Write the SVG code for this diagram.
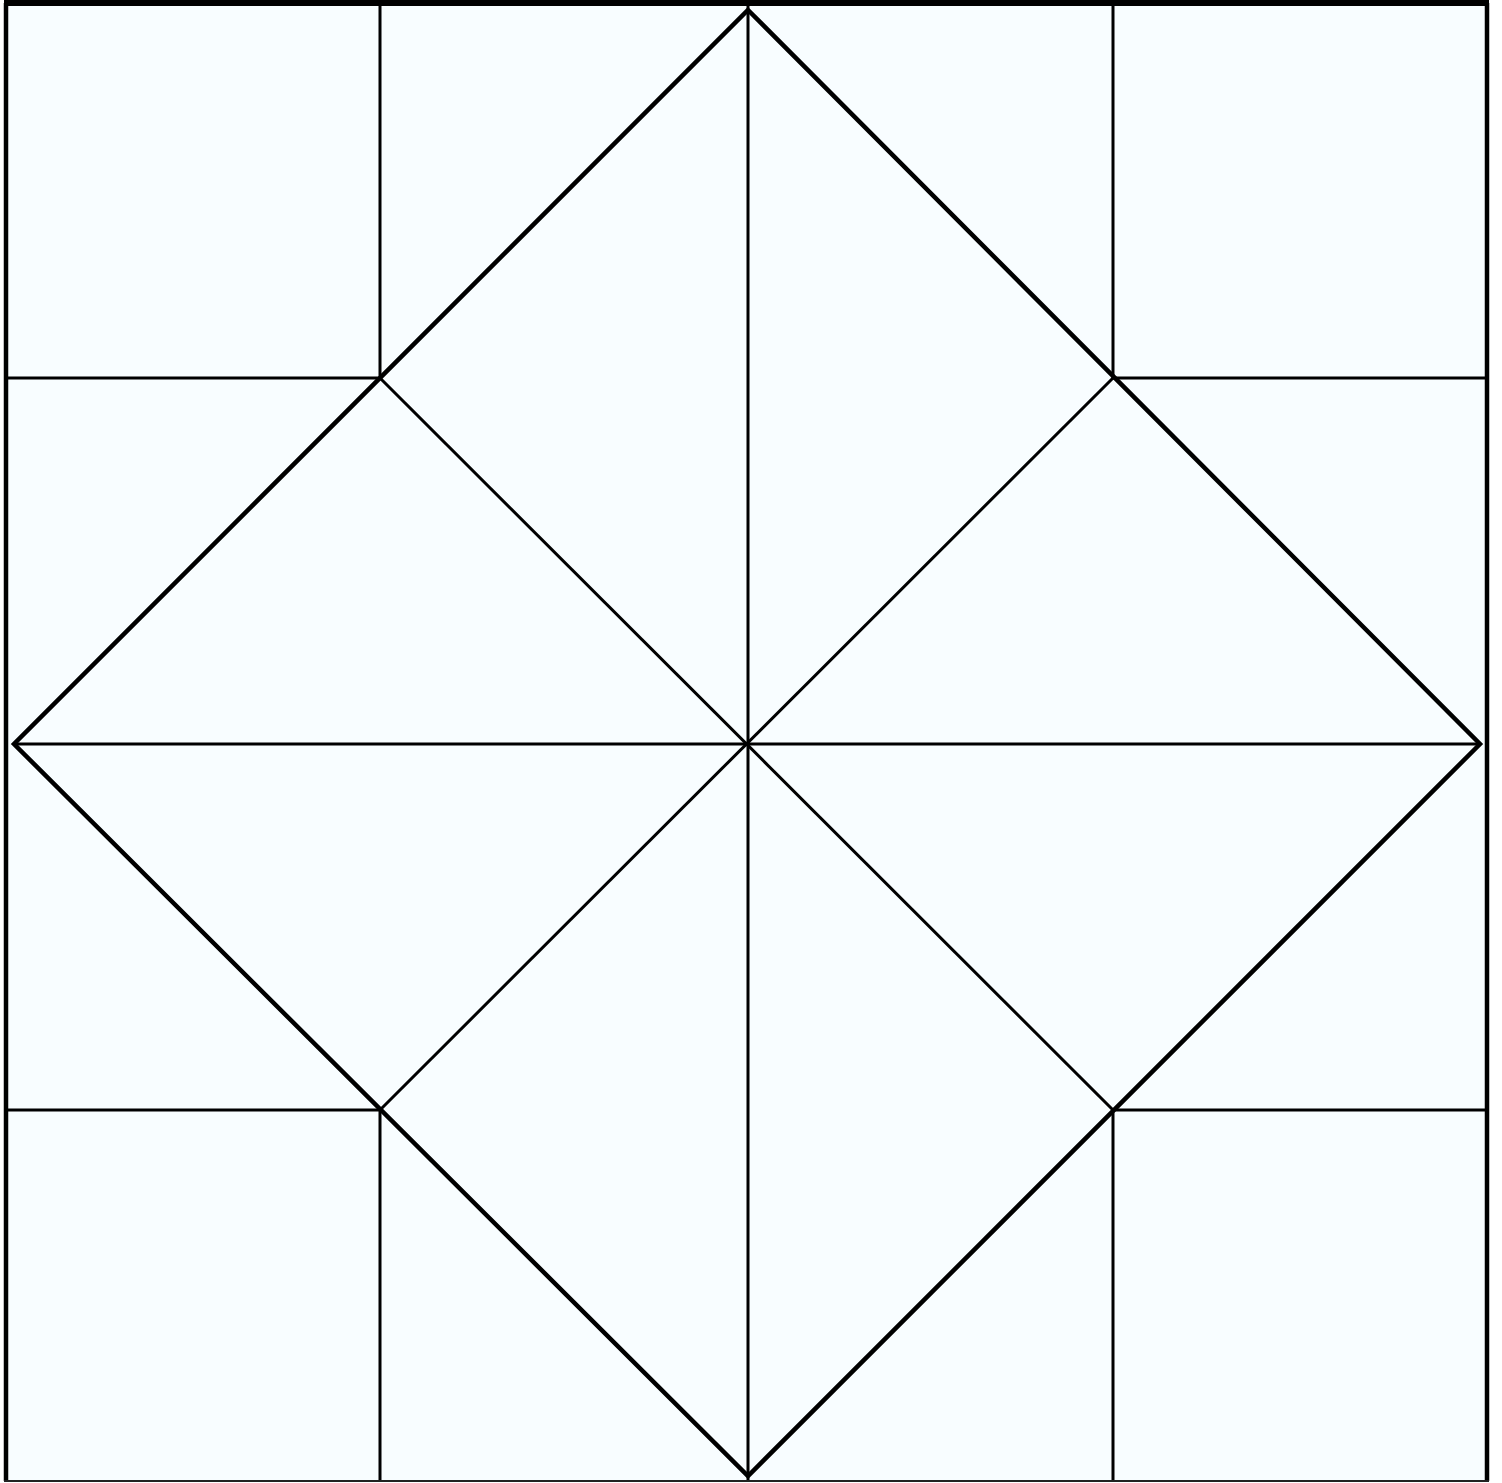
<svg xmlns="http://www.w3.org/2000/svg" width="1502" height="1483" viewBox="0 0 1502 1483">
<style>
.o{stroke:#000;stroke-width:4.5;fill:none}
.t{stroke:#000;stroke-width:3;fill:none}
</style>
<rect x="0" y="0" width="1502" height="1483" fill="#ffffff"/>
<rect x="6" y="3" width="1481" height="1478" fill="#f8fdff" stroke="none"/>
<g id="grid">
<line class="t" x1="6" y1="378" x2="380" y2="378"/>
<line class="t" x1="1113" y1="378" x2="1487" y2="378"/>
<line class="t" x1="6" y1="1110" x2="380" y2="1110"/>
<line class="t" x1="1113" y1="1110" x2="1487" y2="1110"/>
<line class="t" x1="380" y1="3" x2="380" y2="378"/>
<line class="t" x1="1113" y1="3" x2="1113" y2="378"/>
<line class="t" x1="380" y1="1110" x2="380" y2="1481"/>
<line class="t" x1="1113" y1="1110" x2="1113" y2="1481"/>
<line class="t" x1="748" y1="3" x2="748" y2="1481"/>
<line class="t" x1="14" y1="744" x2="1480" y2="744"/>
<line class="t" x1="380" y1="378" x2="1113" y2="1110"/>
<line class="t" x1="1113" y1="378" x2="380" y2="1110"/>
</g>
<g id="diamond">
<polygon class="o" points="748,10 1480,744 748,1476 14,744" stroke-linejoin="miter"/>
</g>
<g id="border">
<line x1="6" y1="3" x2="6" y2="1481" stroke="#000" stroke-width="4.5"/>
<line x1="1487" y1="3" x2="1487" y2="1481" stroke="#000" stroke-width="4.5"/>
<line x1="4" y1="1481" x2="1489" y2="1481" stroke="#222" stroke-width="2"/>
<line x1="4" y1="3" x2="1489" y2="3" stroke="#000" stroke-width="6"/>
</g>
</svg>
